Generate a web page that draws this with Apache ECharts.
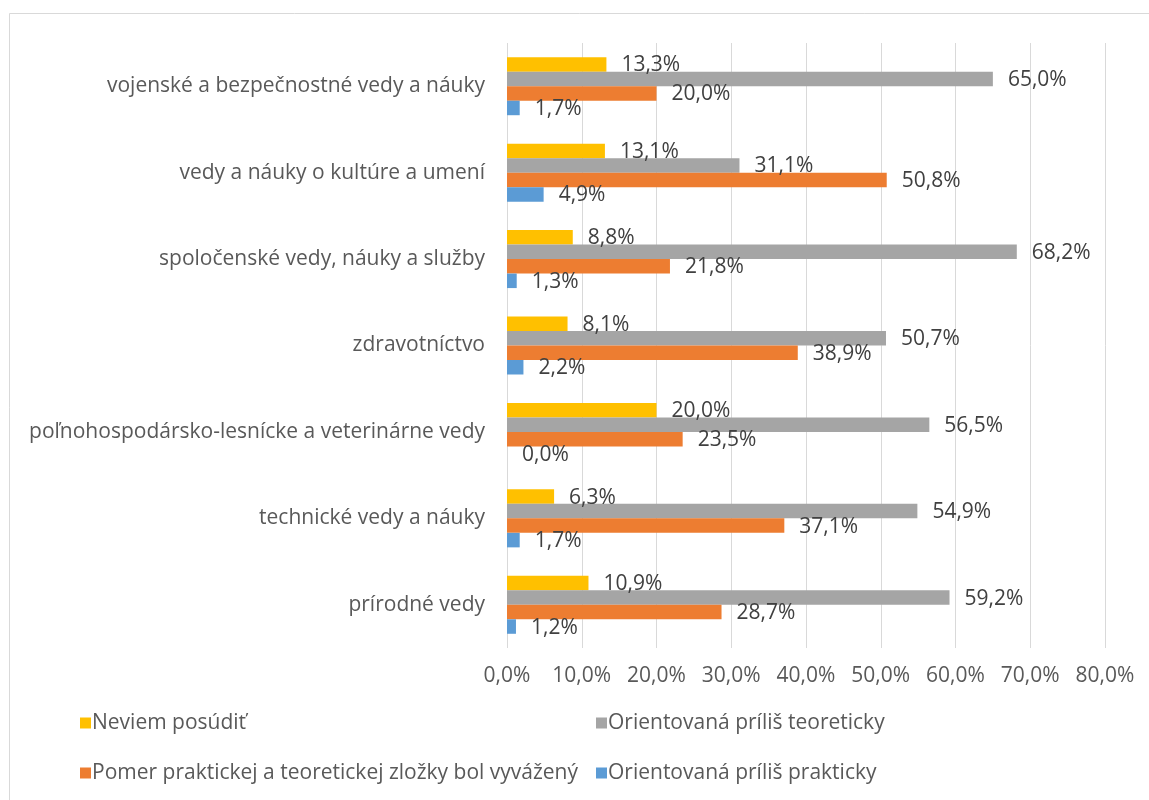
<!DOCTYPE html>
<html>
<head>
<meta charset="utf-8">
<script src="https://cdn.jsdelivr.net/npm/echarts@6/dist/echarts.min.js"></script>
<style>html,body{margin:0;padding:0;background:#fff;}#c{width:1149px;height:800px;}</style>
</head>
<body>
<div id="c"></div>
<script>
const categories = [
  'vojenské a bezpečnostné vedy a náuky',
  'vedy a náuky o kultúre a umení',
  'spoločenské vedy, náuky a služby',
  'zdravotníctvo',
  'poľnohospodársko-lesnícke a veterinárne vedy',
  'technické vedy a náuky',
  'prírodné vedy'
];
const seriesNames = [
  'Neviem posúdiť',
  'Orientovaná príliš teoreticky',
  'Pomer praktickej a teoretickej zložky bol vyvážený',
  'Orientovaná príliš prakticky'
];
const neviem = [13.3, 13.1, 8.8, 8.1, 20.0, 6.3, 10.9];
const teoreticky = [65.0, 31.1, 68.2, 50.7, 56.5, 54.9, 59.2];
const vyvazeny = [20.0, 50.8, 21.8, 38.9, 23.5, 37.1, 28.7];
const prakticky = [1.7, 4.9, 1.3, 2.2, 0.0, 1.7, 1.2];
const xTicks = [0, 10, 20, 30, 40, 50, 60, 70, 80];

const colors = ['#FFC000', '#A5A5A5', '#ED7D31', '#5B9BD5'];
const fmt = v => Number(v).toFixed(1).replace('.', ',') + '%';
const FONT = 'Open Sans';
const FS = 21;
const valuesList = [neviem, teoreticky, vyvazeny, prakticky];

const chart = echarts.init(document.getElementById('c'), null, {renderer: 'canvas'});
chart.setOption({
  animation: false,
  backgroundColor: '#fff',
  textStyle: {fontFamily: FONT},
  graphic: [{
    type: 'rect', shape: {x: 9.5, y: 13.5, width: 1300, height: 1000},
    style: {fill: null, stroke: '#d9d9d9', lineWidth: 1}, silent: true, z: -10
  }],
  grid: {left: 507, right: 44, top: 43, bottom: 152, containLabel: false},
  xAxis: {
    type: 'value', min: xTicks[0], max: xTicks[xTicks.length - 1], interval: xTicks[1] - xTicks[0],
    axisLine: {show: false}, axisTick: {show: false},
    splitLine: {lineStyle: {color: '#d9d9d9', width: 1}},
    axisLabel: {formatter: v => fmt(v), color: '#595959', fontSize: FS, fontFamily: FONT, margin: 18}
  },
  yAxis: {
    type: 'category', inverse: true, data: categories,
    axisLine: {show: false}, axisTick: {show: false},
    axisLabel: {color: '#595959', fontSize: FS, fontFamily: FONT, margin: 22}
  },
  legend: [
    {data: [seriesNames[0], seriesNames[2]], orient: 'vertical', left: 75, top: 707,
     itemWidth: 11, itemHeight: 11, itemGap: 28, icon: 'rect',
     textStyle: {color: '#595959', fontSize: FS, fontFamily: FONT, lineHeight: 22, padding: [0,0,0,-4]}},
    {data: [seriesNames[1], seriesNames[3]], orient: 'vertical', left: 591, top: 707,
     itemWidth: 11, itemHeight: 11, itemGap: 28, icon: 'rect',
     textStyle: {color: '#595959', fontSize: FS, fontFamily: FONT, lineHeight: 22, padding: [0,0,0,-4]}}
  ],
  series: seriesNames.map((name, i) => ({
    name: name, type: 'bar', data: valuesList[i],
    itemStyle: {color: colors[i]},
    barWidth: 14.5, barGap: '0%',
    label: {show: true, position: 'right', distance: 15, offset: [0, 1], formatter: p => fmt(p.value),
            color: '#404040', fontSize: FS, fontFamily: FONT}
  }))
});
</script>
</body>
</html>
